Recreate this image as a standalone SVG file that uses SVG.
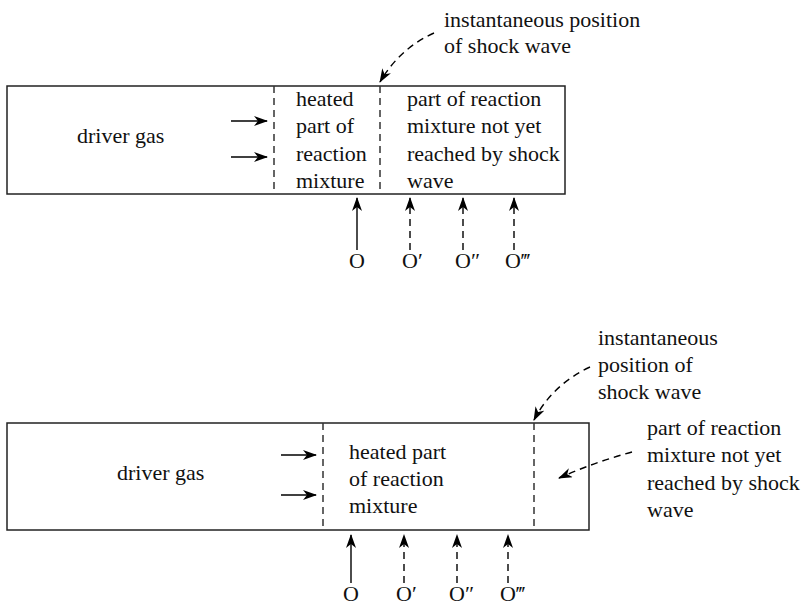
<svg xmlns="http://www.w3.org/2000/svg" width="803" height="606" viewBox="0 0 803 606" font-family="'Liberation Serif', 'Times New Roman', Times, serif">
<defs>
<marker id="ah" markerWidth="14" markerHeight="10" refX="13" refY="5" orient="auto" markerUnits="userSpaceOnUse">
<path d="M0,0 L14,5 L0,10 L4,5 Z" fill="#000"/>
</marker>
<style>
text{font-size:22px;fill:#111}
.box{fill:none;stroke:#222;stroke-width:1.5}
.dl{fill:none;stroke:#333;stroke-width:1.5;stroke-dasharray:7,5}
.ar{fill:none;stroke:#000;stroke-width:1.4;marker-end:url(#ah)}
.da{fill:none;stroke:#000;stroke-width:1.4;stroke-dasharray:7,5;marker-end:url(#ah)}
</style>
</defs>

<!-- TOP DIAGRAM -->
<g id="top-tube">
<rect class="box" x="7" y="86" width="558" height="108"/>
<line class="dl" x1="274" y1="86" x2="274" y2="194"/>
<line class="dl" x1="380" y1="86" x2="380" y2="194"/>
</g>
<g id="top-driver">
<text x="77" y="143">driver gas</text>
</g>
<g id="top-heated">
<text x="296" y="106">heated</text>
<text x="296" y="133">part of</text>
<text x="296" y="161">reaction</text>
<text x="296" y="188">mixture</text>
</g>
<g id="top-unreached">
<text x="407" y="106">part of reaction</text>
<text x="407" y="133">mixture not yet</text>
<text x="407" y="161">reached by shock</text>
<text x="407" y="188">wave</text>
</g>
<g id="top-shock-label">
<text x="444" y="27">instantaneous position</text>
<text x="444" y="53">of shock wave</text>
</g>
<g id="top-obs">
<text x="349" y="268">O</text>
<text x="402" y="268">O′</text>
<text x="455" y="268">O″</text>
<text x="505" y="268">O‴</text>
</g>

<!-- BOTTOM DIAGRAM -->
<g id="bot-tube">
<rect class="box" x="7" y="423" width="582" height="107"/>
<line class="dl" x1="323" y1="423" x2="323" y2="530"/>
<line class="dl" x1="534" y1="423" x2="534" y2="530"/>
</g>
<g id="bot-driver">
<text x="117" y="480">driver gas</text>
</g>
<g id="bot-heated">
<text x="349" y="459">heated part</text>
<text x="349" y="486">of reaction</text>
<text x="349" y="513">mixture</text>
</g>
<g id="bot-shock-label">
<text x="598" y="345">instantaneous</text>
<text x="598" y="372">position of</text>
<text x="598" y="399">shock wave</text>
</g>
<g id="bot-unreached">
<text x="647" y="435">part of reaction</text>
<text x="647" y="462">mixture not yet</text>
<text x="647" y="490">reached by shock</text>
<text x="647" y="517">wave</text>
</g>
<g id="bot-obs">
<text x="343" y="601">O</text>
<text x="396" y="601">O′</text>
<text x="449" y="601">O″</text>
<text x="500" y="601">O‴</text>
</g>

<g id="connectors">
<!-- top -->
<line class="ar" x1="231" y1="121" x2="267" y2="121"/>
<line class="ar" x1="231" y1="157" x2="267" y2="157"/>
<path class="da" d="M434,33 Q400,48 380,82"/>
<line class="ar" x1="357" y1="250" x2="357" y2="198"/>
<line class="da" x1="410" y1="250" x2="410" y2="198"/>
<line class="da" x1="463" y1="250" x2="463" y2="198"/>
<line class="da" x1="514" y1="250" x2="514" y2="198"/>
<!-- bottom -->
<line class="ar" x1="281" y1="455" x2="316" y2="455"/>
<line class="ar" x1="281" y1="495" x2="316" y2="495"/>
<path class="da" d="M590,367 Q552,385 534,420"/>
<path class="da" d="M632,452 Q595,462 559,478"/>
<line class="ar" x1="351" y1="583" x2="351" y2="535"/>
<line class="da" x1="404" y1="583" x2="404" y2="535"/>
<line class="da" x1="457" y1="583" x2="457" y2="535"/>
<line class="da" x1="508" y1="583" x2="508" y2="535"/>
</g>
</svg>
